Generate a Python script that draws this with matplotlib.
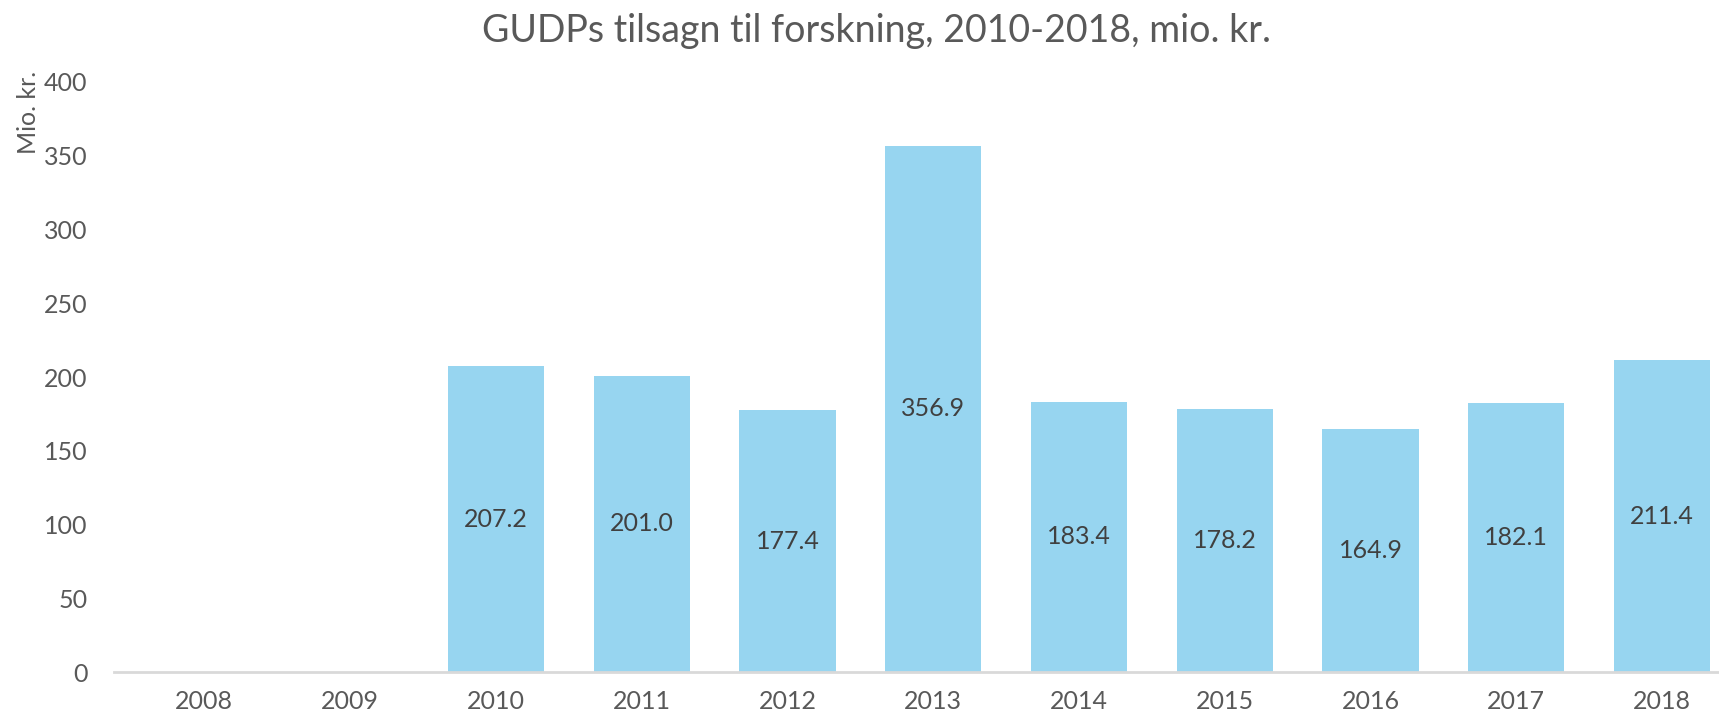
import matplotlib
matplotlib.use("Agg")
from matplotlib import pyplot as plt

years = ['2008', '2009', '2010', '2011', '2012', '2013', '2014', '2015', '2016', '2017', '2018']
values = [0, 0, 207.2, 201.0, 177.4, 356.9, 183.4, 178.2, 164.9, 182.1, 211.4]
y_ticks = [0, 50, 100, 150, 200, 250, 300, 350, 400]

plt.rcParams['font.family'] = ['Lato', 'DejaVu Sans']
text_color = '#595959'
bar_color = '#97D5F0'

fig = plt.figure(figsize=(17.19, 7.18), dpi=100)
ax = fig.add_axes([0.0663, 0.064, 0.9337, 0.8218])

x = list(range(len(years)))
bars = ax.bar(x, values, width=0.66, color=bar_color, zorder=2)

# value labels in the middle of each bar (skip the empty years)
for xi, v in zip(x, values):
    if v > 0:
        ax.text(xi, v / 2, f"{v:.1f}", ha='center', va='center',
                fontsize=18, color='#404040')

ax.set_xlim(-0.62, 10.39)
ax.set_ylim(0, 400)
ax.set_xticks(x)
ax.set_xticklabels(years)
ax.set_yticks(y_ticks)
ax.tick_params(axis='both', length=0, labelsize=18, colors=text_color)
ax.tick_params(axis='x', pad=13)
ax.tick_params(axis='y', pad=19)

for side in ['top', 'right', 'left']:
    ax.spines[side].set_visible(False)
ax.spines['bottom'].set_color('#D9D9D9')
ax.spines['bottom'].set_linewidth(2)
ax.spines['bottom'].set_zorder(3)

fig.text(0.51, 0.957, "GUDPs tilsagn til forskning, 2010-2018, mio. kr.",
         ha='center', va='center', fontsize=27, color=text_color)
fig.text(0.0165, 0.844, "Mio. kr.", rotation=90, ha='center', va='center',
         fontsize=18, color=text_color)

fig.savefig('out.png', dpi=100)
